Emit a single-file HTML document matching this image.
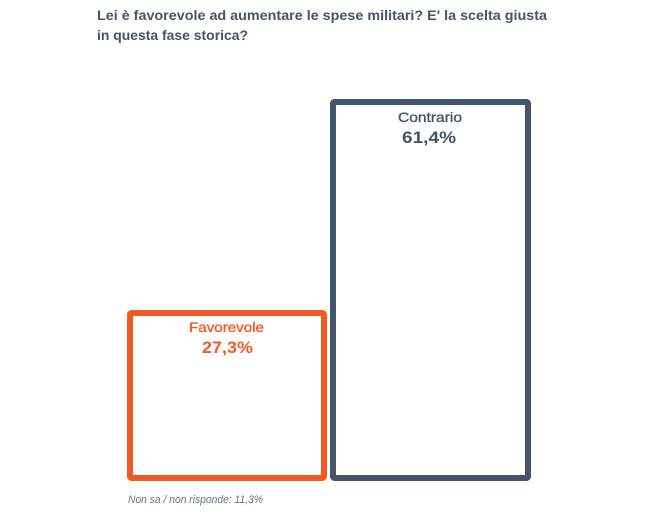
<!DOCTYPE html>
<html><head><meta charset="utf-8"><style>
html,body{margin:0;padding:0;background:#fff;}
svg{display:block;}
</style></head><body>
<svg width="657" height="524" viewBox="0 0 657 524" xmlns="http://www.w3.org/2000/svg">
<rect width="657" height="524" fill="#fff"/>
<g font-family="Liberation Sans, DejaVu Sans, sans-serif" font-weight="bold" fill="#46546a">
<text x="97" y="20" font-size="14" textLength="450" lengthAdjust="spacingAndGlyphs">Lei è favorevole ad aumentare le spese militari? E' la scelta giusta</text>
<text x="97" y="40" font-size="14" textLength="151" lengthAdjust="spacingAndGlyphs">in questa fase storica?</text>
</g>
<rect x="130" y="313" width="194" height="165" rx="1.5" fill="none" stroke="#f15a22" stroke-width="6"/>
<rect x="333" y="102" width="195" height="376" rx="1.5" fill="none" stroke="#44546a" stroke-width="6"/>
<g font-family="Liberation Sans, DejaVu Sans, sans-serif" text-anchor="start">
<text x="189" y="332" font-size="14" fill="#f15a22" stroke="#f15a22" stroke-width="0.35" textLength="75" lengthAdjust="spacingAndGlyphs">Favorevole</text>
<text x="202" y="353" font-size="17" font-weight="bold" fill="#f15a22" textLength="51" lengthAdjust="spacingAndGlyphs">27,3%</text>
<text x="398" y="122" font-size="14" fill="#44546a" stroke="#44546a" stroke-width="0.35" textLength="64" lengthAdjust="spacingAndGlyphs">Contrario</text>
<text x="402" y="143" font-size="17" font-weight="bold" fill="#44546a" textLength="54" lengthAdjust="spacingAndGlyphs">61,4%</text>
<text x="128" y="503" font-size="11" font-style="italic" fill="#6a7384" textLength="135" lengthAdjust="spacingAndGlyphs">Non sa / non risponde: 11,3%</text>
</g>
</svg>
</body></html>
